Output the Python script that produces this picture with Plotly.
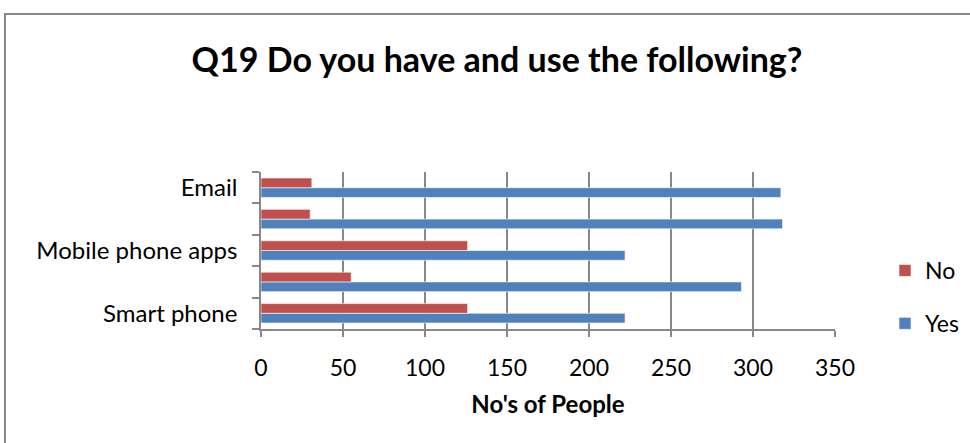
import plotly.graph_objects as go

categories = ["Smart phone", "Internet", "Mobile phone apps", "Mobile phone", "Email"]
tick_labels = ["Smart phone", "", "Mobile phone apps", "", "Email"]
yes_values = [222, 293, 222, 318, 317]
no_values = [126, 55, 126, 30, 31]

W, H = 970, 443
L, R, T, B = 261, 135, 172, 114
pw, ph = W - L - R, H - T - B

def px2x(px):
    return (px - L) / pw

def py2y(py):
    return (H - B - py) / ph

FONT = "Lato"
FS = 23

fig = go.Figure()
fig.add_trace(go.Bar(y=categories, x=yes_values, name="Yes", orientation="h",
                     marker=dict(color="#4F81BD", line=dict(color="rgba(255,255,255,0.6)", width=1)),
                     legendgroup="yes", legendrank=2))
fig.add_trace(go.Bar(y=categories, x=no_values, name="No", orientation="h",
                     marker=dict(color="#C0504D", line=dict(color="rgba(255,255,255,0.6)", width=1)),
                     legendgroup="no", legendrank=1))

fig.update_layout(
    width=W, height=H,
    margin=dict(l=L, r=R, t=T, b=B, autoexpand=False),
    paper_bgcolor="white", plot_bgcolor="white",
    barmode="group", bargap=0.38, bargroupgap=0.0,
    title=dict(text="<b>Q19 Do you have and use the following?</b>",
               x=497 / W, xanchor="center", y=1 - 60 / H, yanchor="middle",
               font=dict(family=FONT, size=34, color="black")),
    font=dict(family=FONT, size=FS, color="black"),
    legend=dict(x=px2x(885), xanchor="left", y=py2y(297), yanchor="middle",
                traceorder="grouped", tracegroupgap=20,
                font=dict(family=FONT, size=FS), itemwidth=30, bgcolor="rgba(0,0,0,0)"),
    showlegend=True,
)

fig.update_xaxes(range=[0, 350], dtick=50, tick0=0,
                 showgrid=True, gridcolor="#888888", gridwidth=1.5,
                 showline=True, linecolor="#888888", linewidth=1.5,
                 ticks="outside", ticklen=6, tickcolor="#888888", tickwidth=1.5,
                 tickfont=dict(family=FONT, size=FS), zeroline=False, ticklabelstandoff=12,
                 title=dict(text="<b>No's of People</b>", font=dict(family=FONT, size=24), standoff=16))
fig.update_yaxes(type="category", categoryorder="array", categoryarray=categories,
                 tickvals=categories, ticktext=tick_labels, tickson="boundaries",
                 showline=True, linecolor="#888888", linewidth=1.5,
                 ticks="outside", ticklen=7, tickcolor="#888888", tickwidth=1.5,
                 showgrid=False, tickfont=dict(family=FONT, size=24), ticklabelstandoff=17)

# chart area border
fig.add_shape(type="rect", xref="paper", yref="paper",
              x0=px2x(5), x1=px2x(990), y0=py2y(470), y1=py2y(14),
              line=dict(color="#888888", width=2), fillcolor="rgba(0,0,0,0)", layer="below")

fig.write_html("out.html", config={"displayModeBar": False},
               post_script="document.body.style.margin='0';document.body.style.overflow='hidden';")
